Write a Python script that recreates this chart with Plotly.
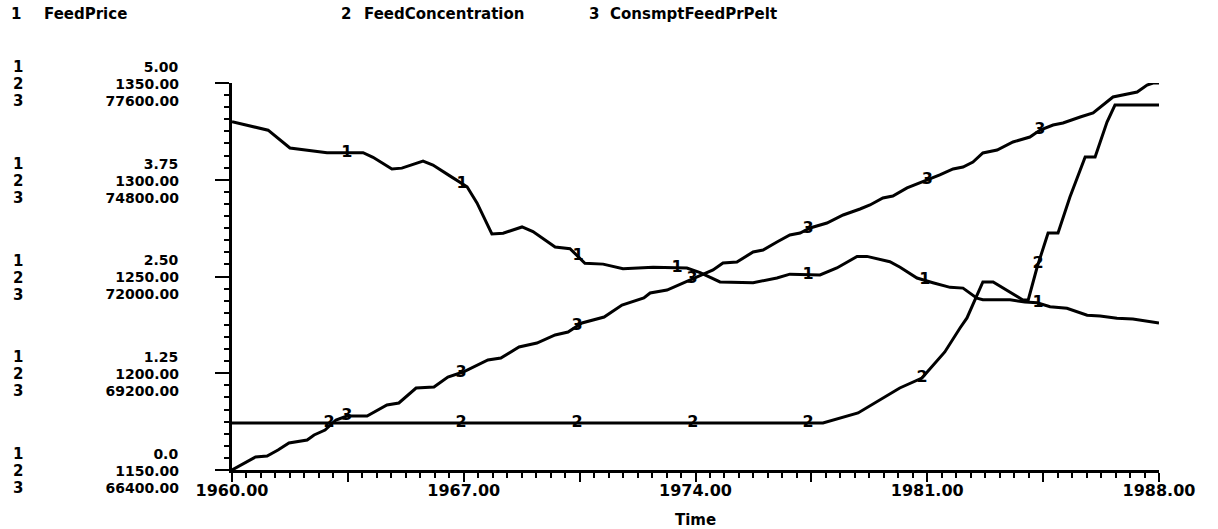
import numpy as np
import plotly.graph_objects as go

# ---------------- data ----------------
series_ids = ["1", "2", "3"]
series_names = ["FeedPrice", "FeedConcentration", "ConsmptFeedPrPelt"]

years1 = [1960.0, 1961.09, 1961.75, 1962.27, 1962.87, 1963.96, 1964.26, 1964.83, 1965.13,
          1965.77, 1966.07, 1966.58, 1967.10, 1967.40, 1967.85, 1968.19, 1968.76, 1969.09,
          1969.76, 1970.21, 1970.66, 1971.21, 1971.81, 1972.72, 1973.74, 1974.14, 1974.74,
          1975.74, 1976.46, 1976.85, 1977.76, 1978.27, 1978.88, 1979.18, 1979.87, 1980.18,
          1980.69, 1981.17, 1981.69, 1982.08, 1982.50, 1982.68, 1983.50, 1983.95, 1984.32,
          1984.71, 1985.22, 1985.83, 1986.22, 1986.73, 1987.21, 1988.0]
feed_price = [4.50, 4.39, 4.16, 4.13, 4.10, 4.10, 4.04, 3.89, 3.90,
              3.99, 3.94, 3.80, 3.66, 3.45, 3.05, 3.06, 3.14, 3.08,
              2.88, 2.86, 2.67, 2.66, 2.60, 2.62, 2.61, 2.55, 2.43,
              2.42, 2.48, 2.53, 2.52, 2.61, 2.76, 2.76, 2.69, 2.62,
              2.48, 2.42, 2.36, 2.35, 2.22, 2.20, 2.20, 2.17, 2.16,
              2.11, 2.09, 2.00, 1.99, 1.96, 1.95, 1.90]

years2 = [1960.0, 1977.85, 1978.91, 1979.57, 1980.17, 1980.84, 1981.53, 1981.99, 1982.20,
          1982.68, 1982.99, 1983.89, 1984.05, 1984.32, 1984.65, 1984.95, 1985.31, 1985.77,
          1986.07, 1986.43, 1986.67, 1988.0]
feed_conc = [1174.3, 1174.3, 1179.5, 1186.2, 1192.4, 1197.5, 1211.0, 1223.4, 1228.6,
             1247.2, 1247.2, 1237.9, 1237.9, 1254.9, 1272.5, 1272.5, 1291.1, 1311.8,
             1311.8, 1329.8, 1338.6, 1338.6]

years3 = [1960.0, 1960.71, 1961.06, 1961.39, 1961.72, 1962.27, 1962.48, 1962.81, 1963.14,
          1963.47, 1964.08, 1964.68, 1965.04, 1965.56, 1966.10, 1966.52, 1966.98, 1967.73,
          1968.12, 1968.67, 1969.21, 1969.76, 1970.15, 1970.57, 1971.24, 1971.78, 1972.44,
          1972.63, 1973.14, 1973.62, 1974.14, 1974.53, 1974.83, 1975.25, 1975.74, 1976.04,
          1976.46, 1976.85, 1977.16, 1977.46, 1977.97, 1978.46, 1978.97, 1979.27, 1979.66,
          1979.96, 1980.39, 1980.87, 1981.38, 1981.78, 1982.08, 1982.38, 1982.68, 1983.11,
          1983.59, 1984.10, 1984.41, 1984.80, 1985.10, 1985.62, 1986.01, 1986.61, 1987.12,
          1987.34, 1987.64, 1987.82, 1988.0]
consmpt = [66400, 66776, 66805, 66979, 67181, 67268, 67413, 67558, 67847,
           67963, 67963, 68281, 68339, 68773, 68802, 69092, 69236, 69583,
           69641, 69960, 70075, 70307, 70394, 70654, 70828, 71175, 71378,
           71522, 71609, 71812, 72043, 72188, 72391, 72420, 72709, 72767,
           72998, 73201, 73259, 73404, 73549, 73780, 73954, 74070, 74272,
           74330, 74562, 74736, 74938, 75112, 75170, 75314, 75575, 75661,
           75893, 76037, 76240, 76384, 76442, 76616, 76732, 77195, 77282,
           77340, 77542, 77600, 77600]

label_years1 = [1963.47, 1966.95, 1970.45, 1973.44, 1977.40, 1980.93, 1984.35]
label_years2 = [1962.93, 1966.92, 1970.42, 1973.92, 1977.40, 1980.84, 1984.35]
label_years3 = [1963.47, 1966.92, 1970.42, 1973.90, 1977.40, 1981.00, 1984.40]

x_ticks = [1960, 1967, 1974, 1981, 1988]
x_ticktext = ["1960.00", "1967.00", "1974.00", "1981.00", "1988.00"]
y1_ticks = [0, 1.25, 2.5, 3.75, 5]
y1_ticktext = ["0.0", "1.25", "2.50", "3.75", "5.00"]
y2_ticks = [1150, 1200, 1250, 1300, 1350]
y2_ticktext = ["1150.00", "1200.00", "1250.00", "1300.00", "1350.00"]
y3_ticks = [66400, 69200, 72000, 74800, 77600]
y3_ticktext = ["66400.00", "69200.00", "72000.00", "74800.00", "77600.00"]
x_title = "Time"

# ---------------- figure ----------------
BLACK = "#000000"
YFONT = dict(family="DejaVu Sans", size=14, color=BLACK, weight="bold")
XFONT = dict(family="DejaVu Sans", size=16, color=BLACK, weight="bold")
IDFONT = dict(family="DejaVu Sans", size=15, color=BLACK, weight="bold")
LBLFONT = dict(family="DejaVu Sans", size=16, color=BLACK, weight="bold")

fig = go.Figure()
series = [
    (years1, feed_price, "y", label_years1),
    (years2, feed_conc, "y2", label_years2),
    (years3, consmpt, "y3", label_years3),
]
for (xs, ys, ax, lyears), sid, name in zip(series, series_ids, series_names):
    fig.add_trace(go.Scatter(x=xs, y=ys, mode="lines", yaxis=ax, name=name,
                             line=dict(color=BLACK, width=3), showlegend=False,
                             hoverinfo="skip"))
    fig.add_trace(go.Scatter(x=lyears, y=np.interp(lyears, xs, ys), mode="text",
                             yaxis=ax, text=[sid] * len(lyears), textposition="middle center",
                             textfont=LBLFONT, showlegend=False, hoverinfo="skip"))

half_step = (x_ticks[1] - x_ticks[0]) / 2
x_major_vals = list(np.arange(x_ticks[0], x_ticks[-1] + 1e-9, half_step))
x_major_text = [x_ticktext[x_ticks.index(v)] if v in x_ticks else "" for v in x_major_vals]

common_y = dict(showgrid=False, zeroline=False, tickmode="array", tickfont=YFONT,
                automargin=False)

# vertical offsets (px, up positive) of the three stacked label rows
row_shift = [16, -1, -18]

fig.update_layout(
    width=1218, height=529,
    margin=dict(l=232, r=59, t=83, b=59, autoexpand=False),
    paper_bgcolor="white", plot_bgcolor="white",
    showlegend=False,
    xaxis=dict(range=[x_ticks[0], x_ticks[-1]], showgrid=False, zeroline=False,
               automargin=False,
               showline=True, linewidth=3, linecolor=BLACK,
               tickmode="array", tickvals=x_major_vals, ticktext=x_major_text,
               ticks="outside", ticklen=9, tickwidth=2, tickcolor=BLACK,
               minor=dict(dtick=(x_ticks[1] - x_ticks[0]) / 16, tick0=x_ticks[0],
                          ticks="outside", ticklen=5, tickwidth=2, tickcolor=BLACK),
               tickfont=XFONT, ticklabelstandoff=-5,
               title=dict(text=x_title, font=dict(family="DejaVu Sans", size=15,
                                                   color=BLACK, weight="bold"),
                          standoff=16)),
    yaxis=dict(range=[y1_ticks[0], y1_ticks[-1]], tickvals=y1_ticks, ticktext=y1_ticktext,
               showline=True, linewidth=3, linecolor=BLACK,
               ticks="outside", ticklen=14, tickwidth=2, tickcolor=BLACK,
               minor=dict(dtick=(y1_ticks[1] - y1_ticks[0]) / 8, tick0=0,
                          ticks="outside", ticklen=5, tickwidth=2, tickcolor=BLACK),
               ticklabelshift=-row_shift[0], ticklabelstandoff=34, **common_y),
    yaxis2=dict(range=[y2_ticks[0], y2_ticks[-1]], tickvals=y2_ticks, ticktext=y2_ticktext,
                overlaying="y", side="left", anchor="x", showline=False, ticks="",
                ticklabelshift=-row_shift[1], ticklabelstandoff=52, **common_y),
    yaxis3=dict(range=[y3_ticks[0], y3_ticks[-1]], tickvals=y3_ticks, ticktext=y3_ticktext,
                overlaying="y", side="left", anchor="x", showline=False, ticks="",
                ticklabelshift=-row_shift[2], ticklabelstandoff=52, **common_y),
    yaxis4=dict(range=[y2_ticks[0], y2_ticks[-1]], tickvals=y2_ticks,
                overlaying="y", side="right", anchor="x", showline=True, linewidth=3,
                linecolor=BLACK, ticks="outside", ticklen=13, tickwidth=2, tickcolor=BLACK,
                minor=dict(dtick=(y2_ticks[1] - y2_ticks[0]) / 4, ticks="outside",
                           ticklen=5, tickwidth=2, tickcolor=BLACK),
                showticklabels=False, showgrid=False, zeroline=False, automargin=False),
)

# series-id column beside the stacked axis labels
id_axes = [("y", y1_ticks), ("y2", y2_ticks), ("y3", y3_ticks)]
for sid, (ax, tvals), shift in zip(series_ids, id_axes, row_shift):
    for v in tvals:
        fig.add_annotation(x=-0.2309, xref="paper", y=v, yref=ax, yshift=shift,
                           text=sid, showarrow=False, font=IDFONT,
                           xanchor="center", yanchor="middle")

# header key
key_x = [(-0.2330, -0.2050), (0.1230, 0.1402), (0.3900, 0.4056)]
for sid, name, (xid, xname) in zip(series_ids, series_names, key_x):
    fig.add_annotation(x=xid, xref="paper", y=1.178, yref="paper", text=sid,
                       showarrow=False, font=IDFONT, xanchor="center", yanchor="middle")
    fig.add_annotation(x=xname, xref="paper", y=1.178, yref="paper", text=name,
                       showarrow=False, font=IDFONT, xanchor="left", yanchor="middle")

# remove the default page margin so the figure sits at the window's corner
fig.write_html("out.html", config={"displayModeBar": False},
               post_script="document.body.style.margin='0';")
